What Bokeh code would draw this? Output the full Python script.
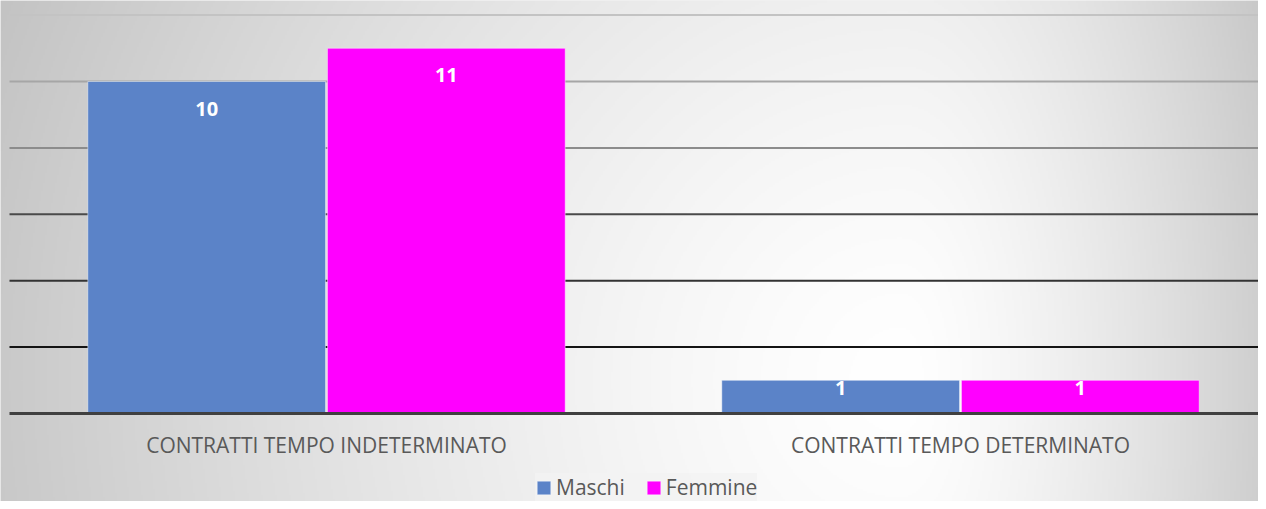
import numpy as np
from bokeh.plotting import figure
from bokeh.models import Range1d, Legend, LegendItem
from bokeh.core.properties import value
from bokeh.embed import file_html
from bokeh.resources import INLINE

# ---- data ----
categories = ["CONTRATTI TEMPO INDETERMINATO", "CONTRATTI TEMPO DETERMINATO"]
maschi = [10, 1]
femmine = [11, 1]
series_names = ["Maschi", "Femmine"]
grid_values = [2, 4, 6, 8, 10, 12]

# ---- style ----
grid_colors = ["#141414", "#333333", "#4a4a4a", "#8c8c8c", "#a6a6a6", "#c3c3c3"]
blue = "#5b83c8"
pink = "#ff00ff"
W, H = 1258, 501
X0_PX, UNIT_X = 9, 634.0
ZERO_PX, UNIT_Y = 413, 33.2
x_start = -X0_PX / UNIT_X
x_end = (W - X0_PX) / UNIT_X
y_end = ZERO_PX / UNIT_Y
y_start = -(H - ZERO_PX) / UNIT_Y

p = figure(width=W, height=H, x_range=Range1d(x_start, x_end),
           y_range=Range1d(y_start, y_end), output_backend="svg",
           toolbar_location=None, min_border=0)
p.axis.visible = False
p.grid.visible = False
p.outline_line_color = None
p.background_fill_color = "#e6e6e6"
p.border_fill_color = "#e6e6e6"

# background gradient (decorative)
ys, xs = np.mgrid[0:H:2, 0:W:2].astype(float)
cx, cy = 900.0, 380.0
dx = xs - cx
ax = np.where(dx < 0, 880.0, 380.0)
r = np.sqrt((dx / ax) ** 2 + ((ys - cy) / 900.0) ** 2)
g = 255 - 52 * np.minimum(r, 1.2) ** 1.4
g = np.clip(g, 0, 255).astype(np.uint8)
g = np.flipud(g)
img = np.empty(g.shape, dtype=np.uint32)
view = img.view(dtype=np.uint8).reshape(g.shape + (4,))
view[..., 0] = g
view[..., 1] = g
view[..., 2] = g
view[..., 3] = 255
p.image_rgba(image=[img], x=x_start, y=y_start, dw=x_end - x_start, dh=y_end - y_start)

n = len(categories)
xc = np.arange(n) + 0.5

# gridlines
p.segment(x0=[0] * len(grid_values), x1=[x_end] * len(grid_values), y0=grid_values,
          y1=grid_values, line_color=grid_colors, line_width=2)

bw = 0.375
off = 0.189
r1 = p.vbar(x=xc - off, top=maschi, bottom=0, width=bw, fill_color=blue,
            line_color="white", line_alpha=0.45, line_width=1)
r2 = p.vbar(x=xc + off, top=femmine, bottom=0, width=bw, fill_color=pink,
            line_color="white", line_alpha=0.45, line_width=1)

# baseline
p.segment(x0=[0], x1=[x_end], y0=[0], y1=[0], line_color="#404040", line_width=3)

# value labels
for xs_, vals in ((xc - off, maschi), (xc + off, femmine)):
    offs = [27 if v >= 2 else 8 for v in vals]
    p.text(x=list(xs_), y=vals, text=[str(v) for v in vals], y_offset=offs,
           text_align="center", text_baseline="alphabetic",
           text_font=value("Open Sans"), text_font_style="bold",
           text_font_size="20px", text_color="white")

# category labels
p.text(x=list(xc), y=[0] * n, text=categories, y_offset=31,
       text_align="center", text_baseline="alphabetic",
       text_font=value("Open Sans"), text_font_size="21px", text_color="#595959")

legend = Legend(items=[LegendItem(label=series_names[0], renderers=[r1]),
                       LegendItem(label=series_names[1], renderers=[r2])],
                location=(535, 0), orientation="horizontal")
legend.background_fill_color = "#f2f2f2"
legend.background_fill_alpha = 0.8
legend.border_line_color = None
legend.label_text_font = "Open Sans"
legend.label_text_font_size = "21px"
legend.label_text_color = "#595959"
legend.glyph_width = 17
legend.glyph_height = 17
legend.label_standoff = 4
legend.spacing = 20
legend.padding = 1
legend.margin = 0
p.add_layout(legend)

open("out.html", "w").write(file_html(p, INLINE))
